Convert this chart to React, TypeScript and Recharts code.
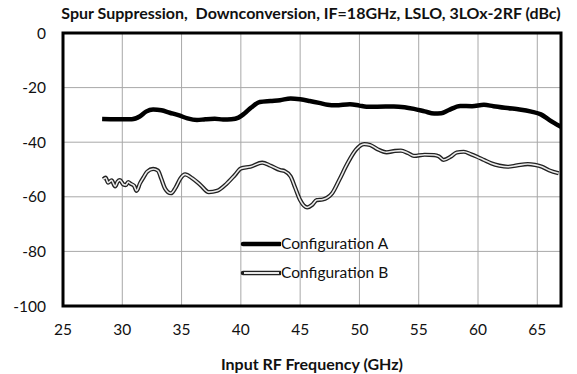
import { LineChart, Line, XAxis, YAxis, CartesianGrid, ReferenceArea } from "recharts";

const freqTicks = [25, 30, 35, 40, 45, 50, 55, 60, 65];
const levelTicks = [-100, -80, -60, -40, -20, 0];

// Configuration A (thick black)
const freqA = [28.3, 29.5, 30.8, 31.5, 32.0, 32.6, 33.3, 34.0, 34.8, 35.5, 36.3, 37.0, 37.8, 38.5, 39.2, 39.8, 40.3, 40.9, 41.6, 42.5, 43.3, 44.2, 45.0, 45.8, 46.6, 47.3, 48.0, 49.2, 50.0, 50.6, 51.5, 52.9, 53.8, 54.6, 55.5, 56.3, 56.9, 57.5, 58.5, 59.5, 60.5, 61.3, 62.5, 63.5, 64.5, 65.3, 66.0, 67.0];
const suppA = [-31.5, -31.6, -31.6, -30.5, -28.8, -28.0, -28.3, -29.2, -30.2, -31.3, -31.9, -31.6, -31.4, -31.7, -31.6, -31.0, -29.5, -27.2, -25.3, -24.9, -24.6, -24.0, -24.3, -24.9, -25.6, -26.3, -26.5, -26.1, -26.6, -27.0, -27.0, -26.9, -27.2, -27.8, -28.7, -29.5, -29.4, -28.3, -26.7, -26.8, -26.3, -26.8, -27.5, -28.0, -28.8, -29.8, -31.8, -34.4];

// Configuration B (double outline)
const freqB = [28.4, 28.6, 28.8, 29.1, 29.4, 29.6, 29.8, 30.1, 30.3, 30.5, 30.7, 31.0, 31.2, 31.5, 31.8, 32.1, 32.6, 33.0, 33.3, 33.6, 34.1, 34.5, 34.9, 35.3, 35.9, 36.6, 37.3, 38.0, 38.8, 39.5, 40.0, 40.8, 41.8, 42.5, 43.3, 43.7, 44.2, 44.6, 45.0, 45.6, 46.0, 46.4, 46.9, 47.3, 47.7, 48.3, 49.0, 49.7, 50.4, 50.9, 51.5, 52.3, 53.0, 53.5, 54.1, 54.6, 55.5, 56.3, 56.7, 57.1, 57.7, 58.2, 58.8, 59.4, 59.9, 60.5, 61.1, 61.8, 62.5, 63.3, 64.2, 64.8, 65.4, 66.0, 66.8];
const suppB = [-53.6, -53.0, -54.8, -54.0, -56.2, -54.5, -53.9, -55.5, -55.7, -54.6, -55.2, -56.0, -57.8, -55.0, -52.8, -50.8, -49.8, -50.4, -53.5, -56.9, -58.7, -56.6, -53.3, -51.8, -53.2, -55.7, -58.3, -57.8, -55.2, -52.0, -49.6, -49.0, -47.5, -48.6, -50.2, -50.6, -52.6, -56.9, -61.2, -63.9, -63.0, -61.2, -61.0, -60.3, -58.7, -53.8, -47.7, -42.8, -40.7, -41.0, -42.5, -43.7, -43.2, -43.1, -44.0, -45.0, -44.6, -44.7, -45.2, -46.5, -45.3, -43.8, -43.5, -44.4, -45.3, -46.5, -47.7, -48.6, -49.0, -48.5, -48.0, -48.3, -49.0, -50.3, -51.4];

const dataA = freqA.map((f, i) => ({ f, v: suppA[i] }));
const dataB = freqB.map((f, i) => ({ f, v: suppB[i] }));

const FONT = "Lato, 'Open Sans', sans-serif";

const LegendBox = () => (
  <div style={{ position: "absolute", left: 240, top: 229, fontFamily: FONT, fontSize: 15.5, color: "#111", lineHeight: "29px" }}>
    <div style={{ display: "flex", alignItems: "center" }}>
      <svg width={41} height={10}>
        <line x1={3} y1={5} x2={40} y2={5} stroke="#000" strokeWidth={4.5} strokeLinecap="round" />
      </svg>
      <span>Configuration A</span>
    </div>
    <div style={{ display: "flex", alignItems: "center" }}>
      <svg width={41} height={10}>
        <line x1={3} y1={5} x2={40} y2={5} stroke="#222" strokeWidth={4.5} strokeLinecap="round" />
        <line x1={4} y1={5} x2={39} y2={5} stroke="#e8e8e8" strokeWidth={1.8} />
      </svg>
      <span>Configuration B</span>
    </div>
  </div>
);

export default function App() {
  return (
    <div style={{ position: "absolute", left: 0, top: 0, width: 577, height: 374, background: "#fff" }}>
      <div style={{ position: "absolute", left: 0, top: 3, width: 622, textAlign: "center", fontFamily: FONT, fontWeight: 700, fontSize: 16, color: "#111" }}>
        Spur Suppression,&nbsp; Downconversion, IF=18GHz, LSLO, 3LOx-2RF (dBc)
      </div>
      <LineChart width={577} height={374} margin={{ top: 33, right: 16, left: 0, bottom: 0 }}>
        <CartesianGrid stroke="#a8a8a8" strokeWidth={1} />
        <XAxis dataKey="f" type="number" domain={[25, 67]} ticks={freqTicks} allowDataOverflow
          axisLine={false} tickLine={false} height={68} tickMargin={12}
          tick={{ fill: "#111", fontSize: 15.5, fontFamily: FONT }}
          label={{ value: "Input RF Frequency (GHz)", position: "insideBottom", offset: 4, fill: "#111", fontSize: 16, fontWeight: 700, fontFamily: FONT }} />
        <YAxis type="number" domain={[-100, 0]} ticks={levelTicks} allowDataOverflow
          axisLine={false} tickLine={false} width={63} tickMargin={11}
          tick={{ fill: "#111", fontSize: 15.5, fontFamily: FONT }} />
        <Line data={dataA} dataKey="v" type="monotone" stroke="#000" strokeWidth={4.5} dot={false} isAnimationActive={false} />
        <Line data={dataB} dataKey="v" type="monotone" stroke="#222" strokeWidth={4.2} dot={false} isAnimationActive={false} />
        <Line data={dataB} dataKey="v" type="monotone" stroke="#ececec" strokeWidth={1.6} dot={false} isAnimationActive={false} />
        <ReferenceArea x1={25} x2={67} y1={-100} y2={0} fill="none" stroke="#000" strokeWidth={3} ifOverflow="visible" />
      </LineChart>
      <LegendBox />
    </div>
  );
}
